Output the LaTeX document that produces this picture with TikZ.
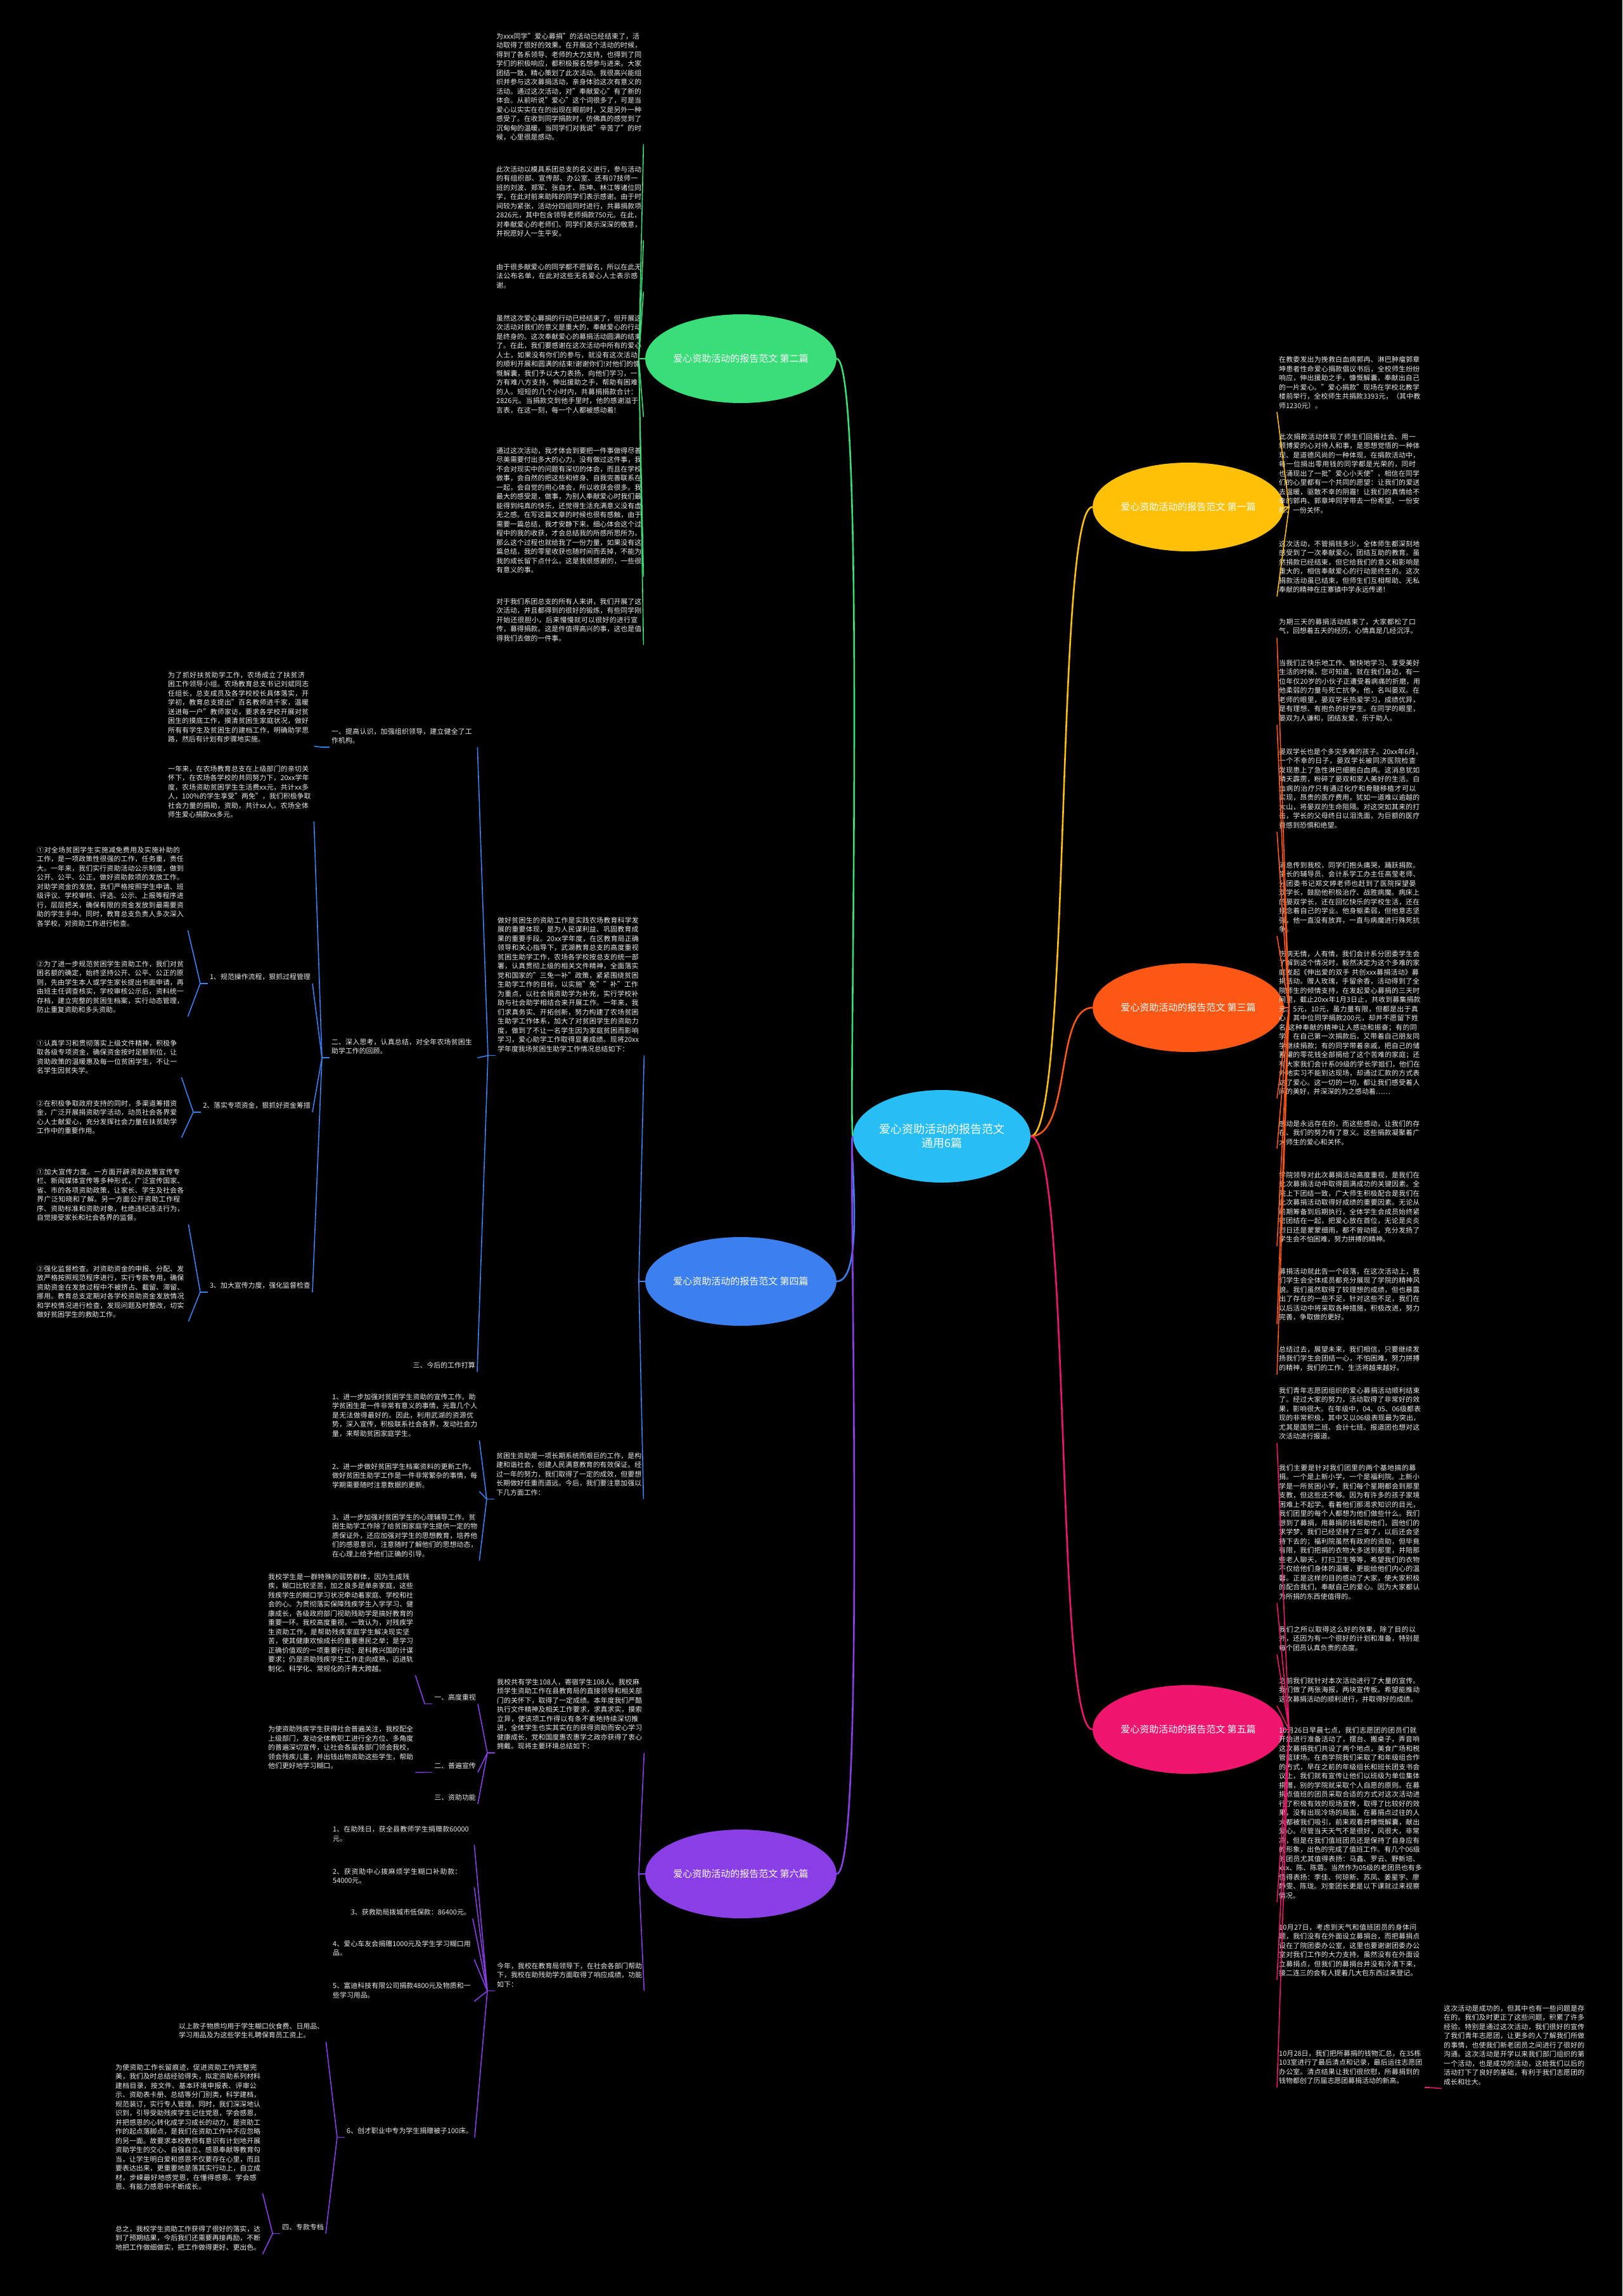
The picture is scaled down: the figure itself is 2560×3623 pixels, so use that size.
\documentclass[tikz,border=0pt]{standalone}
\usepackage{fontspec}
\setmainfont{Noto Sans CJK SC}
\XeTeXlinebreaklocale "zh"
\XeTeXlinebreakskip=0pt plus 1pt
\usetikzlibrary{shapes.geometric}

\definecolor{cmain}{RGB}{38,190,245}
\definecolor{cone}{RGB}{255,193,7}
\definecolor{ctwo}{RGB}{57,222,120}
\definecolor{cthree}{RGB}{255,87,20}
\definecolor{cfour}{RGB}{60,128,240}
\definecolor{cfive}{RGB}{240,22,110}
\definecolor{csix}{RGB}{138,62,230}
\definecolor{txt}{RGB}{236,236,236}

\newcommand{\tsmall}{\fontsize{10.9}{14.5}\selectfont}

\tikzset{
  topic/.style={ellipse, fill=#1, minimum width=256pt, minimum height=140pt,
    text=white, font=\fontsize{15}{18}\selectfont, inner sep=0pt},
  blk/.style={text=txt, font=\tsmall, text width=#1, align=left,
    inner xsep=3pt, inner ysep=5pt, anchor=north west},
  blk/.default=229pt,
  lbl/.style={text=txt, font=\tsmall, inner xsep=3pt, inner ysep=5pt, anchor=north east},
  ln/.style={draw=#1, line width=1.6pt},
  mainln/.style={draw=#1, line width=2.6pt},
}

\begin{document}
\begin{tikzpicture}[x=1pt, y=-1pt]
\fill[black] (0,0) rectangle (2560,3623);
\useasboundingbox (0,0) rectangle (2560,3623);

% centre and the six topics
\node[ellipse, fill=cmain, minimum width=268pt, minimum height=146pt, text=white,
  font=\fontsize{18}{22}\selectfont, align=center, inner sep=0pt] (c) at (1486,1793)
  {爱心资助活动的报告范文\\通用6篇};
\node[topic=ctwo] (n2) at (1169,566) {爱心资助活动的报告范文 第二篇};
\node[topic=cone] (n1) at (1875,800) {爱心资助活动的报告范文 第一篇};
\node[topic=cthree] (n3) at (1875,1590) {爱心资助活动的报告范文 第三篇};
\node[topic=cfour] (n4) at (1169,2022) {爱心资助活动的报告范文 第四篇};
\node[topic=cfive] (n5) at (1875,2729) {爱心资助活动的报告范文 第五篇};
\node[topic=csix] (n6) at (1169,2957) {爱心资助活动的报告范文 第六篇};

\draw[mainln=ctwo] (c.west) .. controls +(-8,0) and +(48,0) .. (n2.east);
\draw[mainln=cfour] (c.west) .. controls +(-8,0) and +(48,0) .. (n4.east);
\draw[mainln=csix] (c.west) .. controls +(-8,0) and +(48,0) .. (n6.east);
\draw[mainln=cone] (c.east) .. controls +(65,0) and +(-60,0) .. (n1.west);
\draw[mainln=cthree] (c.east) .. controls +(65,0) and +(-60,0) .. (n3.west);
\draw[mainln=cfive] (c.east) .. controls +(65,0) and +(-60,0) .. (n5.west);

% ---- 第二篇
\node[blk] (b2a) at (780,47) {为xxx同学"爱心募捐"的活动已经结束了，活动取得了很好的效果。在开展这个活动的时候，得到了各系领导、老师的大力支持，也得到了同学们的积极响应，都积极报名想参与进来。大家团结一致，精心策划了此次活动。我很高兴能组织并参与这次募捐活动，亲身体验这次有意义的活动。通过这次活动，对"奉献爱心"有了新的体会。从前听说"爱心"这个词很多了，可是当爱心以实实在在的出现在眼前时，又是另外一种感受了。在收到同学捐款时，仿佛真的感觉到了沉甸甸的温暖。当同学们对我说"辛苦了"的时候，心里很是感动。};
\node[blk] (b2b) at (780,257) {此次活动以模具系团总支的名义进行，参与活动的有组织部、宣传部、办公室、还有07技师一班的刘波、郑军、张自才、陈坤、林江等诸位同学，在此对前来助阵的同学们表示感谢。由于时间较为紧张，活动分四组同时进行，共募捐款项2826元，其中包含领导老师捐款750元。在此，对奉献爱心的老师们、同学们表示深深的敬意，并祝愿好人一生平安。};
\node[blk] (b2c) at (780,411) {由于很多献爱心的同学都不愿留名，所以在此无法公布名单，在此对这些无名爱心人士表示感谢。};
\node[blk] (b2d) at (780,492) {虽然这次爱心募捐的行动已经结束了，但开展这次活动对我们的意义是重大的，奉献爱心的行动是终身的。这次奉献爱心的募捐活动圆满的结束了。在此，我们要感谢在这次活动中所有的爱心人士，如果没有你们的参与，就没有这次活动的顺利开展和圆满的结束!谢谢你们!对他们的慷慨解囊，我们予以大力表扬，向他们学习，一方有难八方支持，伸出援助之手，帮助有困难的人。短短的几个小时内，共募捐捐款合计：2826元。当捐款交到他手里时，他的感谢溢于言表，在这一刻，每一个人都被感动着!};
\node[blk] (b2e) at (780,701) {通过这次活动，我才体会到要把一件事做得尽善尽美需要付出多大的心力。没有做过这件事，我不会对现实中的问题有深切的体会，而且在学校做事，会自然的把这些和修身、自我完善联系在一起，会自觉的用心体会，所以收获会很多。我最大的感受是，做事，为别人奉献爱心时我们最能得到纯真的快乐，还觉得生活充满意义没有虚无之感。在写这篇文章的时候也很有感触，由于需要一篇总结，我才安静下来，细心体会这个过程中的我的收获，才会总结我的所感所思所为。那么这个过程也就给我了一份力量，如果没有这篇总结，我的零星收获也随时间而丢掉，不能为我的成长留下点什么。这是我很感谢的，一些很有意义的事。};
\node[blk] (b2f) at (780,939) {对于我们系团总支的所有人来讲，我们开展了这次活动，并且都得到的很好的锻炼，有些同学刚开始还很胆小，后来慢慢就可以很好的进行宣传，募得捐款。这是件值得高兴的事，这也是值得我们去做的一件事。};
\draw[ln=ctwo] (n2.west) -- ++(-10,0) coordinate (j2);
\foreach \b in {b2a,b2b,b2c,b2d,b2e,b2f} \draw[ln=ctwo] (j2) -- (\b.south east);

% ---- 第一篇
\node[blk=227pt] (b1a) at (2015,557) {在教委发出为挽救白血病郭冉、淋巴肿瘤郭章坤患者性命爱心捐款倡议书后，全校师生纷纷响应，伸出援助之手，慷慨解囊，奉献出自己的一片爱心。"爱心捐款"现场在学校北教学楼前举行，全校师生共捐款3393元，（其中教师1230元）。};
\node[blk=227pt] (b1b) at (2015,679) {此次捐款活动体现了师生们回报社会、用一颗博爱的心对待人和事，是思想觉悟的一种体现、是道德风尚的一种体现，在捐款活动中，每一位捐出零用钱的同学都是光荣的，同时也涌现出了一批"爱心小天使"，相信在同学们的心里都有一个共同的愿望：让我们的爱送去温暖，驱散不幸的阴霾！让我们的真情给不幸的郭冉、郭章坤同学带去一份希望、一份安慰、一份关怀。};
\node[blk=227pt] (b1c) at (2015,848) {这次活动，不管捐钱多少，全体师生都深刻地感受到了一次奉献爱心，团结互助的教育。虽然捐款已经结束，但它给我们的意义和影响是重大的，相信奉献爱心的行动是终生的。这次捐款活动虽已结束，但师生们互相帮助、无私奉献的精神在庄寨镇中学永远传递！};
\draw[ln=cone] (n1.east) -- ++(8,0) coordinate (j1);
\foreach \b in {b1a,b1b,b1c} \draw[ln=cone] (j1) -- (\b.south west);

% ---- 第三篇
\node[blk=227pt] (b3a) at (2015,971) {为期三天的募捐活动结束了，大家都松了口气，回想着五天的经历，心情真是几经沉浮。};
\node[blk=227pt] (b3b) at (2015,1036) {当我们正快乐地工作、愉快地学习、享受美好生活的时候，您可知道，就在我们身边，有一位年仅20岁的小伙子正遭受着病痛的折磨，用他柔弱的力量与死亡抗争。他，名叫晏双。在老师的眼里，晏双学长热爱学习，成绩优异，是有理想、有抱负的好学生。在同学的眼里，晏双为人谦和，团结友爱，乐于助人。};
\node[blk=227pt] (b3c) at (2015,1176) {晏双学长也是个多灾多难的孩子。20xx年6月，一个不幸的日子，晏双学长被同济医院检查发现患上了急性淋巴细胞白血病。这消息犹如晴天霹雳，粉碎了晏双和家人美好的生活。白血病的治疗只有通过化疗和骨髓移植才可以实现，昂贵的医疗费用，犹如一道难以逾越的大山，将晏双的生命阻隔。对这突如其来的打击，学长的父母终日以泪洗面，为巨额的医疗费感到恐惧和绝望。};
\node[blk=227pt] (b3d) at (2015,1355) {消息传到我校，同学们抱头痛哭，踊跃捐款。学长的辅导员、会计系学工办主任高莹老师、分团委书记郑文婷老师也赶到了医院探望晏双学长，鼓励他积极治疗、战胜病魔。病床上的晏双学长，还在回忆快乐的学校生活，还在挂念着自己的学业。他身躯柔弱，但他意志坚强，他一直没有放弃，一直与病魔进行殊死抗争。};
\node[blk=227pt] (b3e) at (2015,1495) {伤病无情，人有情，我们会计系分团委学生会了解到这个情况时，毅然决定为这个多难的家庭发起《伸出爱的双手 共创xxx募捐活动》募捐活动。赠人玫瑰，手留余香，活动得到了全院师生的倾情支持，在发起爱心募捐的三天时间里，截止20xx年1月3日止，共收到募集捐款元。5元，10元，虽力量有限，但都是出于真心，其中位同学捐款200元，却并不愿留下姓名,这种奉献的精神让人感动和振奋；有的同学，在自己第一次捐款后，又带着自己朋友同学继续捐款；有的同学带着亲戚，把自己的储蓄罐的零花钱全部捐给了这个苦难的家庭；还有大家我们会计系09级的学长学姐们，他们在外地实习不能到达现场，却通过汇款的方式表达了爱心。这一切的一切，都让我们感受着人间的美好，并深深的为之感动着……};
\node[blk=227pt] (b3f) at (2015,1763) {感动是永远存在的，而这些感动，让我们的存在、我们的努力有了意义。这些捐款凝聚着广大师生的爱心和关怀。};
\node[blk=227pt] (b3g) at (2015,1844) {学院领导对此次募捐活动高度重视，是我们在此次募捐活动中取得圆满成功的关键因素。全院上下团结一致，广大师生积极配合是我们在此次募捐活动取得好成绩的重要因素。无论从前期筹备到后期执行，全体学生会成员始终紧密团结在一起，把爱心放在首位，无论是炎炎烈日还是蒙蒙细雨，都不曾动摇，充分发扬了学生会不怕困难，努力拼搏的精神。};
\node[blk=227pt] (b3h) at (2015,1996) {募捐活动就此告一个段落，在这次活动上，我们学生会全体成员都充分展现了学院的精神风貌。我们虽然取得了较理想的成绩，但也暴露出了存在的一些不足，针对这些不足，我们在以后活动中将采取各种措施，积极改进，努力完善，争取做的更好。};
\node[blk=227pt] (b3i) at (2015,2119) {总结过去，展望未来，我们相信，只要继续发扬我们学生会团结一心，不怕困难，努力拼搏的精神，我们的工作、生活将越来越好。};
\draw[ln=cthree] (n3.east) -- ++(8,0) coordinate (j3);
\foreach \b in {b3a,b3b,b3c,b3d,b3e,b3f,b3g,b3h,b3i} \draw[ln=cthree] (j3) -- (\b.south west);

% ---- 第五篇
\node[blk=227pt] (b5a) at (2015,2184) {我们青年志愿团组织的爱心募捐活动顺利结束了。经过大家的努力，活动取得了非常好的效果，影响很大。在年级中，04、05、06级都表现的非常积极，其中又以06级表现最为突出，尤其是国贸二班、会计七班。报道团也想对这次活动进行报道。};
\node[blk=227pt] (b5b) at (2015,2306) {我们主要是针对我们团里的两个基地搞的募捐。一个是上新小学，一个是福利院。上新小学是一所贫困小学，我们每个星期都会到那里支教，但这些还不够。因为有许多的孩子家境困难上不起学。看着他们那渴求知识的目光，我们团里的每个人都想为他们做些什么。我们想到了募捐，用募捐的钱帮助他们，圆他们的求学梦。我们已经坚持了三年了，以后还会坚持下去的；福利院虽然有政府的资助，但毕竟有限，我们把捐的衣物大多送到那里，并陪那些老人聊天，打扫卫生等等，希望我们的衣物不仅给他们身体的温暖，更能给他们内心的温馨。正是这样的目的感动了大家，使大家积极的配合我们，奉献自己的爱心。因为大家都认为所捐的东西使值得的。};
\node[blk=227pt] (b5c) at (2015,2561) {我们之所以取得这么好的效果，除了目的以外，还因为有一个很好的计划和准备，特别是每个团员认真负责的态度。};
\node[blk=227pt] (b5d) at (2015,2642) {之前我们就针对本次活动进行了大量的宣传。我们做了两张海报，两块宣传板。希望能推动这次募捐活动的顺利进行，并取得好的成绩。};
\node[blk=227pt] (b5e) at (2015,2720) {10月26日早晨七点，我们志愿团的团员们就开始进行准备活动了，摆台、搬桌子，弄音响这次募捐我们共设了两个地点，美食广场和税管篮球场。在商学院我们采取了和年级组合作的方式，早在之前的年级组长和班长团支书会议上，我们就有宣传让他们以班级为单位集体捐赠，别的学院就采取个人自愿的原则。在募捐点值班的团员采取合适的方式对这次活动进行了积极有效的现场宣传，取得了比较好的效果，没有出现冷场的局面，在募捐点过往的人大都被我们吸引，前来观看并慷慨解囊，献出爱心。尽管当天天气不是很好，风很大，非常冷，但是在我们值班团员还是保持了自身应有的形象，出色的完成了值班工作。有几个06级的团员尤其值得表扬：马鑫、罗云、野新培、xxx、陈、陈蓉。当然作为05级的老团员也有多值得表扬：李佳、何琼新、苏凤、姜星宇、廖静雯、陈珑。刘奎团长更是以下课就过来视察情况。};
\node[blk=227pt] (b5f) at (2015,3031) {10月27日，考虑到天气和值班团员的身体问题，我们没有在外面设立募捐台，而把募捐点设在了院团委办公室，这里也要谢谢团委办公室对我们工作的大力支持。虽然没有在外面设立募捐点，但我们的募捐台并没有冷清下来，接二连三的会有人提着几大包东西过来登记。};
\node[blk=227pt] (b5g) at (2015,3230) {10月28日，我们把所募捐的钱物汇总，在35栋103室进行了最后清点和记录，最后运往志愿团办公室。清点结果让我们很欣慰，所募捐到的钱物都创了历届志愿团募捐活动的新高。};
\node[blk=227pt] (b5h) at (2275,3159) {这次活动是成功的，但其中也有一些问题是存在的。我们及时更正了这些问题，积累了许多经验。特别是通过这次活动，我们很好的宣传了我们青年志愿团，让更多的人了解我们所做的事情，也使我们新老团员之间进行了很好的沟通。这次活动是开学以来我们部门组织的第一个活动，也是成功的活动，这给我们以后的活动打下了良好的基础，有利于我们志愿团的成长和壮大。};
\draw[ln=cfive] (n5.east) -- ++(8,0) coordinate (j5);
\foreach \b in {b5a,b5b,b5c,b5d,b5e,b5f,b5g} \draw[ln=cfive] (j5) -- (\b.south west);
\draw[ln=cfive] (b5g.south east) -- ++(8,0) coordinate (j5g);
\draw[ln=cfive] (j5g) -- (b5h.south west);

% ---- 第四篇
\node[blk=228pt] (b4a) at (782,1442) {做好贫困生的资助工作是实践农场教育科学发展的重要体现，是为人民谋利益、巩固教育成果的重要手段。20xx学年度，在区教育局正确领导和关心指导下，武湖教育总支的高度重视贫困生助学工作，农场各学校按总支的统一部署，认真贯彻上级的相关文件精神，全面落实党和国家的"三免一补"政策，紧紧围绕贫困生助学工作的目标，以实施"免""补"工作为重点，以社会捐资助学为补充，实行学校补助与社会助学相结合来开展工作。一年来，我们求真务实、开拓创新，努力构建了农场贫困生助学工作体系，加大了对贫困学生的资助力度，做到了不让一名学生因为家庭贫困而影响学习，爱心助学工作取得显著成绩。现将20xx学年度我场贫困生助学工作情况总结如下：};
\node[blk=227pt] (b4b) at (520,1144) {一、提高认识，加强组织领导，建立健全了工作机构。};
\node[blk=227pt] (b4b1) at (262,1055) {为了抓好扶贫助学工作，农场成立了扶贫济困工作领导小组。农场教育总支书记刘斌同志任组长，总支成员及各学校校长具体落实，开学初，教育总支提出"百名教师进千家，温暖送进每一户"教师家访，要求各学校开展对贫困生的摸底工作，摸清贫困生家庭状况，做好所有有学生及贫困生的建档工作，明确助学思路，然后有计划有步骤地实施。};
\node[blk=227pt] (b4c) at (520,1634) {二、深入思考，认真总结，对全年农场贫困生助学工作的回顾。};
\node[blk=227pt] (b4c1) at (262,1203) {一年来，在农场教育总支在上级部门的亲切关怀下，在农场各学校的共同努力下，20xx学年度，农场资助贫困学生生活费xx元，共计xx多人，100\%的学生享受"两免"，我们积极争取社会力量的捐助，资助，共计xx人。农场全体师生爱心捐款xx多元。};
\node[lbl] (b4c2) at (493,1531) {1、规范操作流程，狠抓过程管理};
\node[lbl] (b4c3) at (493,1734) {2、落实专项资金，狠抓好资金筹措};
\node[lbl] (b4c4) at (493,2018) {3、加大宣传力度，强化监督检查};
\node[lbl] (b4d) at (753,2144) {三、今后的工作打算};
\node[blk=235pt] (p1) at (55,1331) {①对全场贫困学生实施减免费用及实施补助的工作，是一项政策性很强的工作，任务重，责任大。一年来，我们实行资助活动公示制度，做到公开、公平、公正，做好资助款项的发放工作。对助学资金的发放，我们严格按照学生申请、班级评议、学校审核、评选、公示、上报等程序进行，层层把关，确保有限的资金发放到最需要资助的学生手中。同时，教育总支负责人多次深入各学校，对资助工作进行检查。};
\node[blk=235pt] (p2) at (55,1511) {②为了进一步规范贫困学生资助工作，我们对贫困名额的确定，始终坚持公开、公平、公正的原则，先由学生本人或学生家长提出书面申请，再由班主任调查核实，学校审核公示后，资料统一存档，建立完整的贫困生档案，实行动态管理，防止重复资助和多头资助。};
\node[blk=225pt] (p3) at (55,1636) {①认真学习和贯彻落实上级文件精神，积极争取各级专项资金，确保资金按时足额到位，让资助政策的温暖惠及每一位贫困学生，不让一名学生因贫失学。};
\node[blk=225pt] (p4) at (55,1731) {②在积极争取政府支持的同时，多渠道筹措资金，广泛开展捐资助学活动，动员社会各界爱心人士献爱心，充分发挥社会力量在扶贫助学工作中的重要作用。};
\node[blk=236pt] (p5) at (55,1839) {①加大宣传力度。一方面开辟资助政策宣传专栏、新闻媒体宣传等多种形式，广泛宣传国家、省、市的各项资助政策，让家长、学生及社会各界广泛知晓和了解。另一方面公开资助工作程序、资助标准和资助对象，杜绝违纪违法行为，自觉接受家长和社会各界的监督。};
\node[blk=236pt] (p6) at (55,1992) {②强化监督检查。对资助资金的申报、分配、发放严格按照规范程序进行，实行专款专用，确保资助资金在发放过程中不被挤占、截留、滞留、挪用。教育总支定期对各学校资助资金发放情况和学校情况进行检查，发现问题及时整改，切实做好贫困学生的救助工作。};
\node[blk] (b4z) at (780,2287) {贫困生资助是一项长期系统而艰巨的工作，是构建和谐社会，创建人民满意教育的有效保证。经过一年的努力，我们取得了一定的成效，但要想长期做好任重而道远。今后，我们要注意加强以下几方面工作：};
\node[blk] (b4z1) at (521,2194) {1、进一步加强对贫困学生资助的宣传工作。助学贫困生是一件非常有意义的事情，光靠几个人是无法做得最好的。因此，利用武湖的资源优势，深入宣传，积极联系社会各界，发动社会力量，来帮助贫困家庭学生。};
\node[blk] (b4z2) at (521,2304) {2、进一步做好贫困学生档案资料的更新工作。做好贫困生助学工作是一件非常繁杂的事情，每学期需要随时注意数据的更新。};
\node[blk] (b4z3) at (521,2384) {3、进一步加强对贫困学生的心理辅导工作。贫困生助学工作除了给贫困家庭学生提供一定的物质保证外，还应加强对学生的思想教育，培养他们的感恩意识，注意随时了解他们的思想动态，在心理上给予他们正确的引导。};
\draw[ln=cfour] (n4.west) -- ++(-10,0) coordinate (j4);
\foreach \b in {b4a,b4z} \draw[ln=cfour] (j4) -- (\b.south east);
\draw[ln=cfour] (b4a.south west) -- ++(-12,0) coordinate (j4a);
\foreach \b in {b4b,b4c,b4d} \draw[ln=cfour] (j4a) -- (\b.south east);
\draw[ln=cfour] (b4b.south west) -- ++(-12,0) coordinate (j4b);
\draw[ln=cfour] (j4b) -- (b4b1.south east);
\draw[ln=cfour] (b4c.south west) -- ++(-12,0) coordinate (j4c);
\foreach \b in {b4c1,b4c2,b4c3,b4c4} \draw[ln=cfour] (j4c) -- (\b.south east);
\draw[ln=cfour] (b4c2.south west) -- ++(-12,0) coordinate (k1);
\foreach \b in {p1,p2} \draw[ln=cfour] (k1) -- (\b.south east);
\draw[ln=cfour] (b4c3.south west) -- ++(-12,0) coordinate (k2);
\foreach \b in {p3,p4} \draw[ln=cfour] (k2) -- (\b.south east);
\draw[ln=cfour] (b4c4.south west) -- ++(-12,0) coordinate (k3);
\foreach \b in {p5,p6} \draw[ln=cfour] (k3) -- (\b.south east);
\draw[ln=cfour] (b4z.south west) -- ++(-12,0) coordinate (j4z);
\foreach \b in {b4z1,b4z2,b4z3} \draw[ln=cfour] (j4z) -- (\b.south east);

% ---- 第六篇
\node[blk] (b6a) at (781,2644) {我校共有学生108人，寄宿学生108人。我校麻烦学生资助工作在县教育局的直接领导和相关部门的关怀下，取得了一定成绩。本年度我们严酷执行文件精神及相关工作要求，求真求实，摸索立异，使该项工作得以有条不紊地持续深切推进，全体学生也实其实在的获得资助而安心学习健康成长，党和国度惠农惠学之政亦获得了衷心拥戴。现将主要环境总结如下：};
\node[lbl] (g1) at (754,2668) {一、高度重视};
\node[lbl] (g2) at (754,2776) {二、普遍宣传};
\node[lbl] (g3) at (754,2826) {三、资助功能};
\node[blk] (g1a) at (420,2478) {我校学生是一群特殊的弱势群体，因为生成残疾，糊口比较坚苦，加之良多是单亲家庭，这些残疾学生的糊口学习状况牵动着家庭、学校和社会的心。为贯彻落实保障残疾学生入学学习、健康成长，各级政府部门视助残助学是搞好教育的重要一环。我校高度重视，一致认为，对残疾学生资助工作，是帮助残疾家庭学生解决现实坚苦，使其健康欢愉成长的重要惠民之举；是学习正确价值观的一项重要行动；是科教兴国的计谋要求；仍是资助残疾学生工作走向成熟，迈进轨制化、科学化、常规化的汗青大跨越。};
\node[blk] (g2a) at (420,2718) {为使资助残疾学生获得社会普遍关注，我校配全上级部门，发动全体教职工进行全方位、多角度的普遍深切宣传，让社会各届各部门领会我校，领会残疾儿童，并出钱出物资助这些学生，帮助他们更好地学习糊口。};
\node[blk] (b6b) at (781,3092) {今年，我校在教育局领导下，在社会各部门帮助下，我校在助残助学方面取得了响应成绩，功能如下：};
\node[blk=220pt] (s1) at (522,2876) {1、在助残日，获全县教师学生捐赠款60000元。};
\node[blk=220pt] (s2) at (522,2943) {2、获资助中心拨麻烦学生糊口补助款：54000元。};
\node[lbl] (s3) at (746,3007) {3、获救助局拨城市低保款：86400元。};
\node[blk=220pt] (s4) at (522,3057) {4、爱心车友会捐赠1000元及学生学习糊口用品。};
\node[blk=220pt] (s5) at (522,3123) {5、富迪科技有限公司捐款4800元及物质和一些学习用品。};
\node[lbl] (s6) at (749,3352) {6、创才职业中专为学生捐赠被子100床。};
\node[blk] (s6a) at (279,3187) {以上款子物质均用于学生糊口伙食费、日用品、学习用品及为这些学生礼聘保育员工资上。};
\node[lbl] (s6b) at (514,3504) {四、专款专档};
\node[blk] (s6b1) at (179,3252) {为使资助工作长留痕迹，促进资助工作完整完美，我们及时总结经验得失，拟定资助系列材料建档目录，按文件、基本环境申报表、评审公示、资助表卡册、总结等分门别类，科学建档，规范装订，实行专人管理。同时，我们深深地认识到，引导受助残疾学生记住党恩，学会感恩，并把感恩的心转化成学习成长的动力，是资助工作的起点落脚点，是我们在资助工作中不应忽略的另一面。故要求本校教师有意识有计划地开展资助学生的交心、自强自立、感恩奉献等教育勾当，让学生明白爱和感恩不仅要存在心里，而且要表达出来，更重要地是落其实行动上，自立成材，步嵘最好地感党恩，在懂得感恩、学会感恩、有能力感恩中不断成长。};
\node[blk] (s6b2) at (179,3507) {总之，我校学生资助工作获得了很好的落实，达到了预期结果，今后我们还需要再接再励，不断地把工作做细做实，把工作做得更好、更出色。};
\draw[ln=csix] (n6.west) -- ++(-10,0) coordinate (j6);
\foreach \b in {b6a,b6b} \draw[ln=csix] (j6) -- (\b.south east);
\draw[ln=csix] (b6a.south west) -- ++(-12,0) coordinate (j6a);
\foreach \b in {g1,g2,g3} \draw[ln=csix] (j6a) -- (\b.south east);
\draw[ln=csix] (g1.south west) -- ++(-12,0) coordinate (jg1);
\draw[ln=csix] (jg1) -- (g1a.south east);
\draw[ln=csix] (g2.south west) -- ++(-12,0) coordinate (jg2);
\draw[ln=csix] (jg2) -- (g2a.south east);
\draw[ln=csix] (b6b.south west) -- ++(-12,0) coordinate (j6b);
\foreach \b in {s1,s2,s3,s4,s5,s6} \draw[ln=csix] (j6b) -- (\b.south east);
\draw[ln=csix] (s6.south west) -- ++(-12,0) coordinate (j6s);
\foreach \b in {s6a,s6b} \draw[ln=csix] (j6s) -- (\b.south east);
\draw[ln=csix] (s6b.south west) -- ++(-12,0) coordinate (j6t);
\foreach \b in {s6b1,s6b2} \draw[ln=csix] (j6t) -- (\b.south east);
\end{tikzpicture}
\end{document}
